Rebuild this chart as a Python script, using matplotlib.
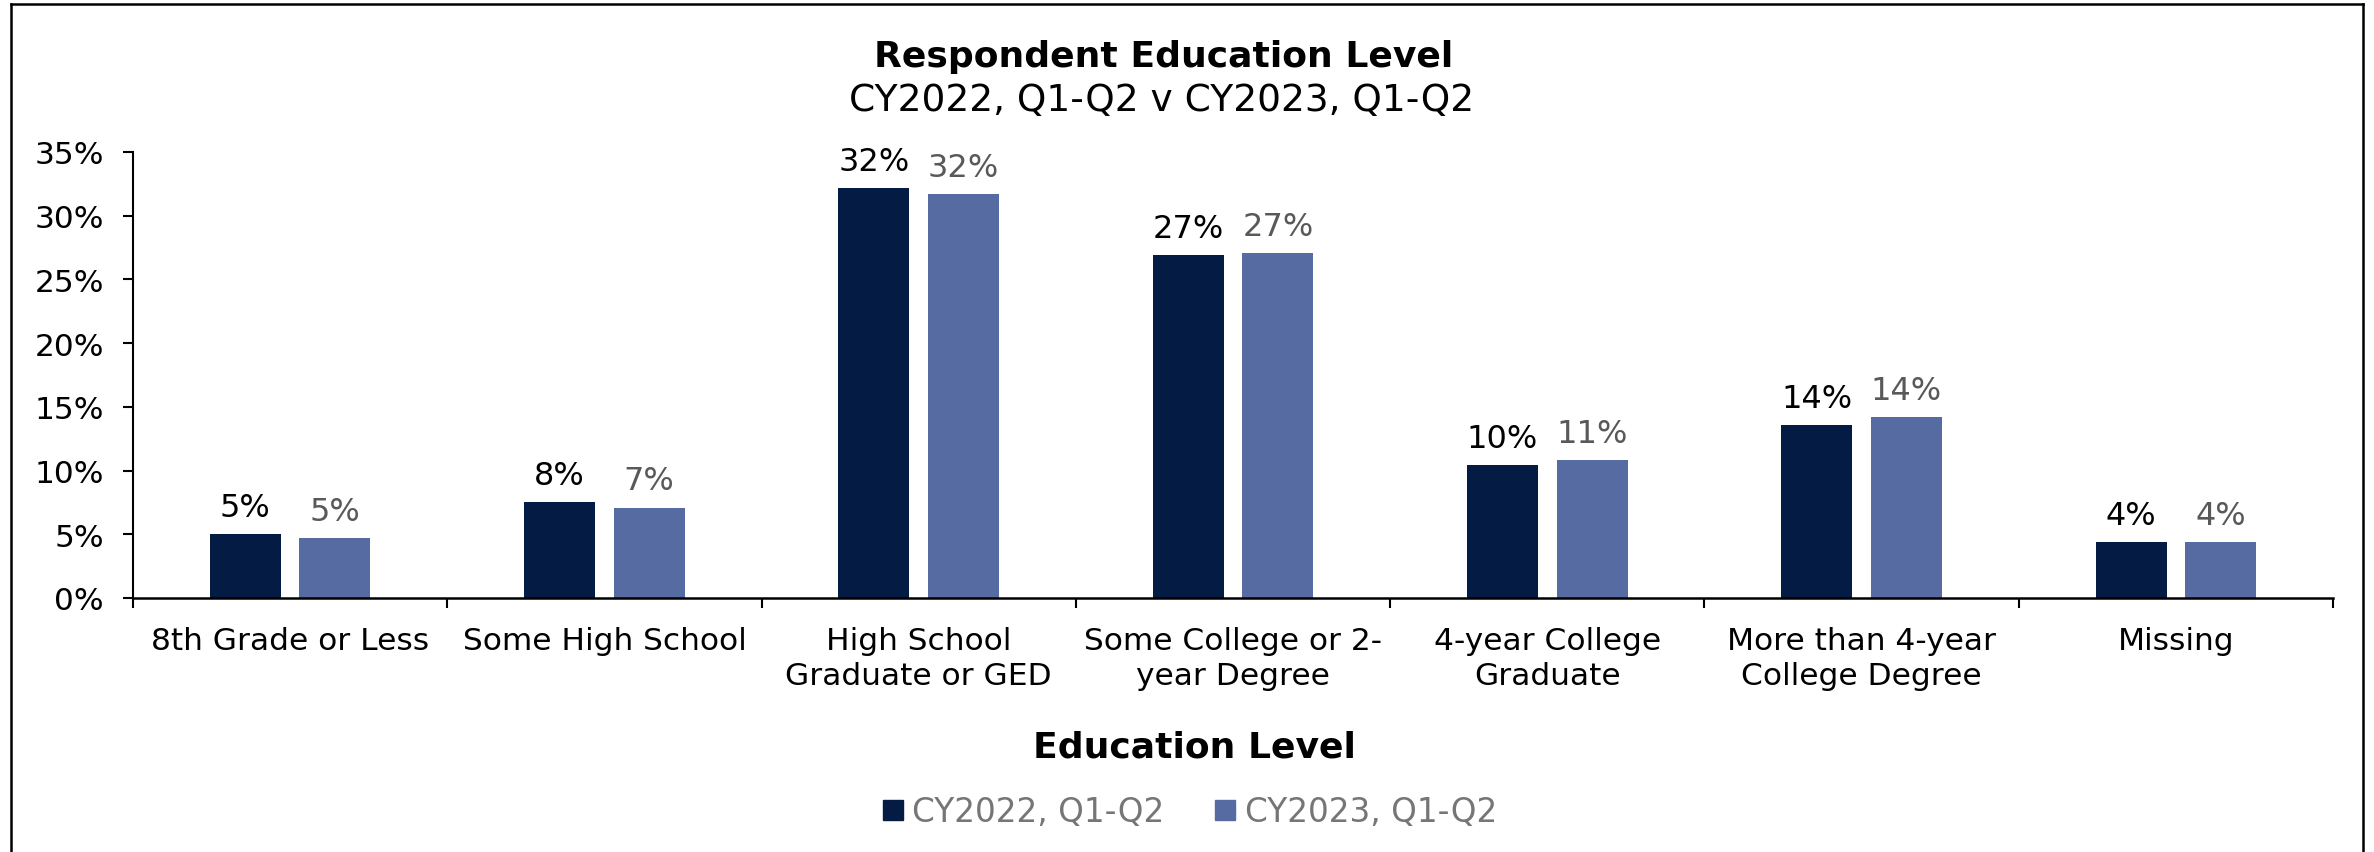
import matplotlib
matplotlib.use("Agg")
import matplotlib.pyplot as plt
from matplotlib.lines import Line2D
from matplotlib.patches import Patch
import numpy as np

categories = [
    "8th Grade or Less",
    "Some High School",
    "High School\nGraduate or GED",
    "Some College or 2-\nyear Degree",
    "4-year College\nGraduate",
    "More than 4-year\nCollege Degree",
    "Missing",
]
cy2022 = [5.0, 7.5, 32.2, 26.9, 10.4, 13.6, 4.4]
cy2023 = [4.7, 7.1, 31.7, 27.1, 10.8, 14.2, 4.4]
series_names = ["CY2022, Q1-Q2", "CY2023, Q1-Q2"]
y_ticks = [0, 5, 10, 15, 20, 25, 30, 35]

dark = "#041C43"
light = "#556BA2"

plt.rcParams["font.family"] = ["DejaVu Sans"]

W, H = 2374, 853
fig = plt.figure(figsize=(W / 100, H / 100), dpi=100)
ax = fig.add_axes([133 / W, 1 - 599 / H, (2333 - 133) / W, (599 - 153) / H])

x = np.arange(len(categories))
bw = 0.226
off = 0.1425
b1 = ax.bar(x - off, cy2022, bw, color=dark)
b2 = ax.bar(x + off, cy2023, bw, color=light)

ax.bar_label(b1, labels=[f"{v:.0f}%" for v in cy2022], padding=8,
             fontsize=23, color="black")
ax.bar_label(b2, labels=[f"{v:.0f}%" for v in cy2023], padding=8,
             fontsize=23, color="#595959")

ax.set_xlim(-0.5, len(categories) - 0.5)
ax.set_ylim(0, 35)
ax.set_yticks(y_ticks)
ax.set_yticklabels([f"{t}%" for t in y_ticks], fontsize=22.5)

# category borders as major ticks, names on minor ticks
ax.set_xticks(np.arange(len(categories) + 1) - 0.5)
ax.set_xticklabels([])
ax.set_xticks(x, minor=True)
ax.set_xticklabels(categories, minor=True, fontsize=22.5, linespacing=1.25)
ax.tick_params(axis="x", which="major", direction="out", length=7, width=1.5)
ax.tick_params(axis="x", which="minor", length=0, pad=20)
ax.tick_params(axis="y", direction="out", length=7, width=1.5, pad=14)

for s in ["top", "right"]:
    ax.spines[s].set_visible(False)
ax.spines["left"].set_linewidth(1.5)
ax.spines["bottom"].set_linewidth(1.8)

fig.text(1164 / W, 1 - 67 / H, "Respondent Education Level", ha="center",
         va="baseline", fontsize=26, fontweight="bold")
fig.text(1162 / W, 1 - 111 / H, "CY2022, Q1-Q2 v CY2023, Q1-Q2", ha="center",
         va="baseline", fontsize=27)
fig.text(1194 / W, 1 - 758 / H, "Education Level", ha="center",
         va="baseline", fontsize=26, fontweight="bold")

handles = [Patch(color=dark), Patch(color=light)]
leg = fig.legend(handles, series_names, loc="center",
                 bbox_to_anchor=(1190 / W, 1 - 813 / H), ncol=2, frameon=False,
                 fontsize=23.5, handlelength=0.6, handleheight=0.6,
                 handletextpad=0.3, columnspacing=1.55)
for t in leg.get_texts():
    t.set_color("#767676")

# outer frame, bottom edge is cut off in the original
fx0, fx1, fy = 11 / W, 2363 / W, 1 - 5 / H
for xd, yd in [([fx0, fx0], [-0.05, fy]), ([fx0, fx1], [fy, fy]),
               ([fx1, fx1], [fy, -0.05])]:
    fig.add_artist(Line2D(xd, yd, color="black", lw=1.8))

fig.savefig("out.png", dpi=100)
